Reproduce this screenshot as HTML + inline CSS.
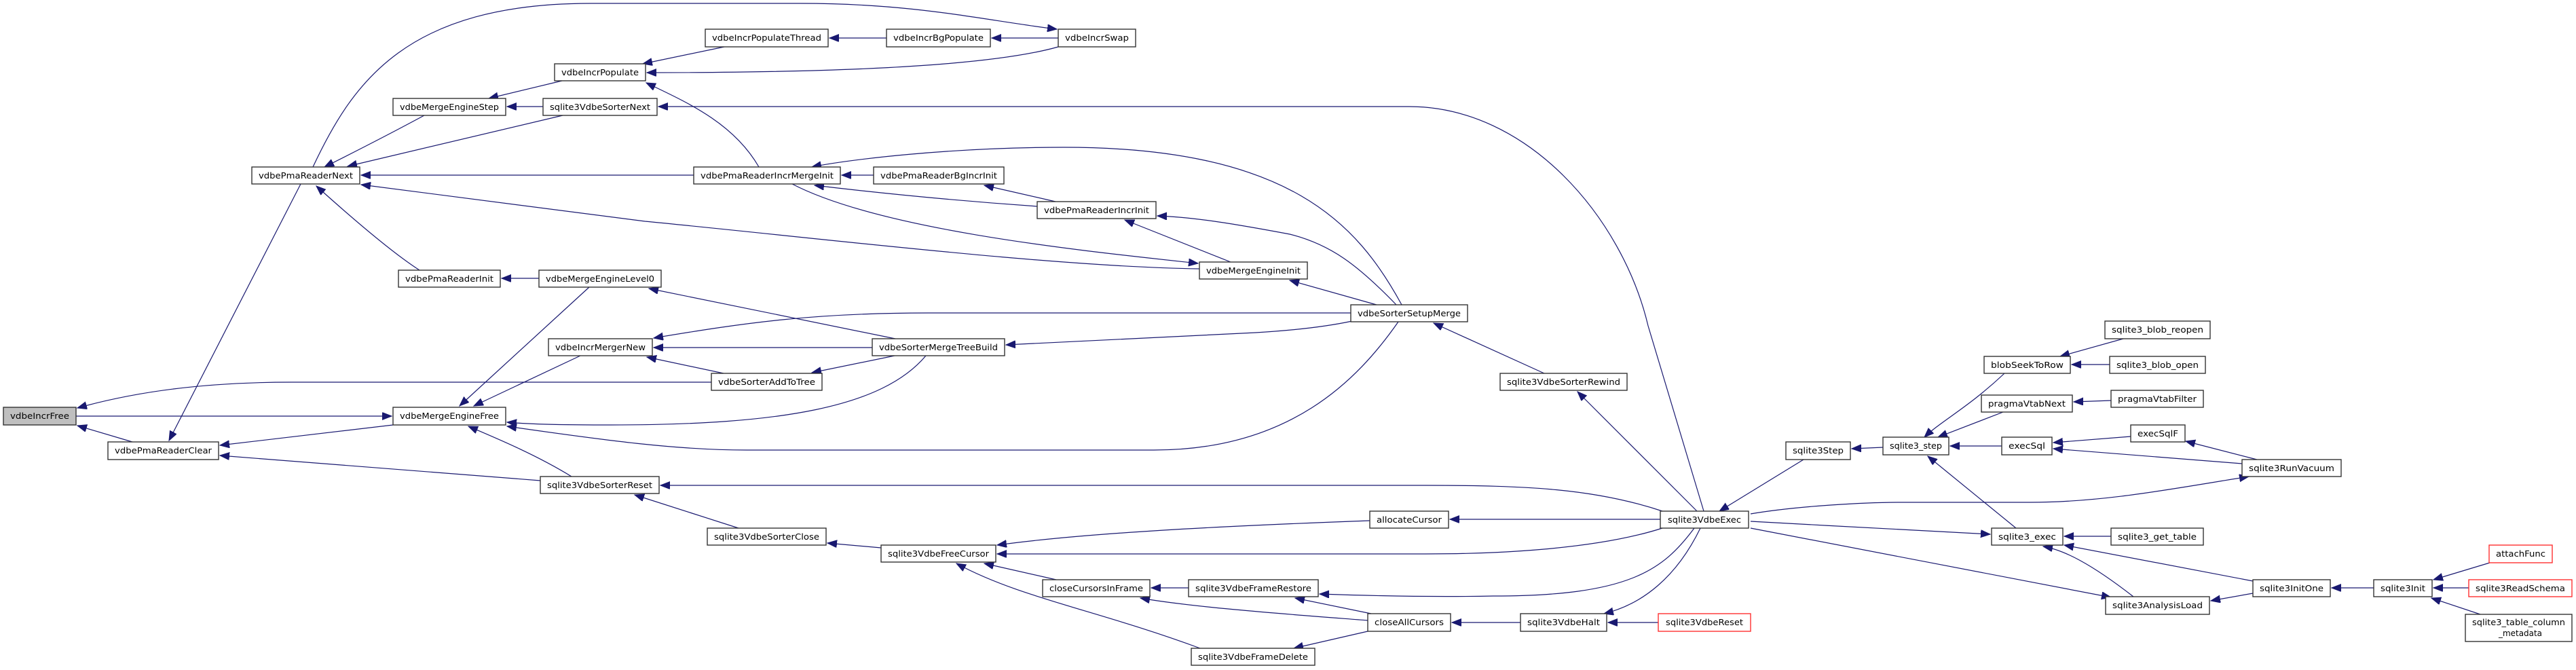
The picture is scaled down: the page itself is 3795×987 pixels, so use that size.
<!DOCTYPE html>
<html><head><meta charset="utf-8"><style>
html,body{margin:0;padding:0;background:#fff;}
svg{display:block;}
text{font-family:"DejaVu Sans","Liberation Sans",sans-serif;font-size:12px;fill:#000;}
.n{fill:#fff;stroke:#333;stroke-width:1.4;}
.g{fill:#bfbfbf;stroke:#333;stroke-width:1.4;}
.r{fill:#fff;stroke:#ff3030;stroke-width:1.4;}
.e{fill:none;stroke:#191970;stroke-width:1.2;marker-end:url(#a);}
</style></head><body>
<svg width="3795" height="987" viewBox="0 0 3795 987" xmlns="http://www.w3.org/2000/svg">
<defs><marker id="a" markerUnits="userSpaceOnUse" markerWidth="16" markerHeight="12" refX="14" refY="5.5" orient="auto"><path d="M0,0 L14,5.5 L0,11 Z" fill="#191970" stroke="#191970"/></marker></defs>

<!-- edges -->
<path class="e" d="M195,651 L114,627"/>
<path class="e" d="M1048,563 L430,563 C300,563 200,577 114,601"/>
<path class="e" d="M112,613 L577,613"/>
<path class="e" d="M443,271 L249,649"/>
<path class="e" d="M579,626 L324,656"/>
<path class="e" d="M796,708 L324,671"/>
<path class="e" d="M461,246 C520,120 600,5 870,5 L1180,5 C1350,5 1450,30 1557,43"/>
<path class="e" d="M625,170 C560,205 510,230 478,246"/>
<path class="e" d="M829,170 L512,245"/>
<path class="e" d="M1022,258 L532,258"/>
<path class="e" d="M1767,396 C1550,393 1200,350 950,326 L532,272"/>
<path class="e" d="M618,398 C590,380 545,345 466,274"/>
<path class="e" d="M828,119 L720,145"/>
<path class="e" d="M800,157 L747,157"/>
<path class="e" d="M1067,69 L947,94"/>
<path class="e" d="M1559,69 C1450,100 1200,107 953,107"/>
<path class="e" d="M1118,246 C1080,180 1010,150 952,122"/>
<path class="e" d="M1306,56 L1222,56"/>
<path class="e" d="M1559,56 L1461,56"/>
<path class="e" d="M2510,753 L2428,480 C2390,320 2250,157 2076,157 L970,157"/>
<path class="e" d="M1287,258 L1240,258"/>
<path class="e" d="M1528,304 C1400,295 1300,285 1200,273"/>
<path class="e" d="M2065,449 C2000,330 1900,217 1567,217 C1400,217 1250,235 1196,246"/>
<path class="e" d="M1167,271 C1300,340 1600,370 1765,388"/>
<path class="e" d="M1555,297 L1450,273"/>
<path class="e" d="M1813,386 L1657,324"/>
<path class="e" d="M2057,449 C2000,390 1960,360 1900,345 C1820,330 1760,320 1705,318"/>
<path class="e" d="M2028,449 L1900,413"/>
<path class="e" d="M794,410 L739,410"/>
<path class="e" d="M868,423 L677,598"/>
<path class="e" d="M1319,499 L956,425"/>
<path class="e" d="M855,524 L698,598"/>
<path class="e" d="M1364,524 C1300,600 1150,626 900,626 C800,626 770,624 747,622"/>
<path class="e" d="M2060,474 C2000,560 1900,663 1700,663 L1100,663 C1000,663 900,650 747,628"/>
<path class="e" d="M842,702 C790,670 730,645 690,628"/>
<path class="e" d="M1990,461 L1367,461 C1200,461 1100,475 963,498"/>
<path class="e" d="M1285,512 L963,512"/>
<path class="e" d="M1066,550 L953,526"/>
<path class="e" d="M1318,524 L1196,549"/>
<path class="e" d="M1992,473 C1950,482 1900,487 1850,490 L1482,508"/>
<path class="e" d="M2275,550 L2112,476"/>
<path class="e" d="M2500,753 L2324,577"/>
<path class="e" d="M1088,778 L935,729"/>
<path class="e" d="M2449,753 C2350,720 2250,715 2100,715 L973,715"/>
<path class="e" d="M1298,807 L1219,800"/>
<path class="e" d="M2018,767 C1800,775 1600,785 1469,803"/>
<path class="e" d="M2449,778 C2350,810 2200,816 2100,816 L1469,816"/>
<path class="e" d="M1556,854 L1450,830"/>
<path class="e" d="M1768,955 C1620,900 1500,880 1409,830"/>
<path class="e" d="M1751,866 L1696,866"/>
<path class="e" d="M2015,914 C1900,905 1760,895 1680,881"/>
<path class="e" d="M2020,904 L1908,881"/>
<path class="e" d="M2496,778 C2450,840 2400,878 2200,878 C2100,880 2000,877 1944,875"/>
<path class="e" d="M2015,930 L1906,955"/>
<path class="e" d="M2449,765 L2136,765"/>
<path class="e" d="M2240,917 L2139,917"/>
<path class="e" d="M2505,778 C2470,850 2420,890 2363,904"/>
<path class="e" d="M2446,917 L2369,917"/>
<path class="e" d="M2657,677 L2533,753"/>
<path class="e" d="M2579,757 C2650,745 2750,740 2800,740 L2990,740 C3100,740 3200,720 3313,702"/>
<path class="e" d="M2579,768 C2700,775 2850,782 2932,787"/>
<path class="e" d="M2579,778 L3110,880"/>
<path class="e" d="M2774,659 L2728,661"/>
<path class="e" d="M2953,550 C2900,600 2860,620 2835,644"/>
<path class="e" d="M2951,607 L2855,644"/>
<path class="e" d="M2949,657 L2873,657"/>
<path class="e" d="M2970,778 L2840,672"/>
<path class="e" d="M3128,499 L3035,525"/>
<path class="e" d="M3108,537 L3052,537"/>
<path class="e" d="M3110,590 L3055,592"/>
<path class="e" d="M3139,643 L3025,652"/>
<path class="e" d="M3303,683 L3025,661"/>
<path class="e" d="M3325,677 L3220,650"/>
<path class="e" d="M3110,790 L3041,790"/>
<path class="e" d="M3319,856 L3041,803"/>
<path class="e" d="M3143,879 C3080,830 3040,810 3010,805"/>
<path class="e" d="M3319,874 L3257,885"/>
<path class="e" d="M3497,866 L3435,866"/>
<path class="e" d="M3668,829 L3585,854"/>
<path class="e" d="M3637,866 L3585,866"/>
<path class="e" d="M3654,905 L3582,881"/>

<!-- nodes -->
<g>
<rect class="g" x="5" y="600" width="107" height="26"/><text x="58.5" y="617" text-anchor="middle" textLength="87" lengthAdjust="spacingAndGlyphs">vdbeIncrFree</text>
<rect class="n" x="159" y="651" width="163" height="26"/><text x="240.5" y="668" text-anchor="middle" textLength="143" lengthAdjust="spacingAndGlyphs">vdbePmaReaderClear</text>
<rect class="n" x="579" y="600" width="166" height="26"/><text x="662" y="617" text-anchor="middle" textLength="146" lengthAdjust="spacingAndGlyphs">vdbeMergeEngineFree</text>
<rect class="n" x="808" y="499" width="153" height="25"/><text x="884.5" y="516" text-anchor="middle" textLength="133" lengthAdjust="spacingAndGlyphs">vdbeIncrMergerNew</text>
<rect class="n" x="796" y="702" width="175" height="25"/><text x="883.5" y="719" text-anchor="middle" textLength="155" lengthAdjust="spacingAndGlyphs">sqlite3VdbeSorterReset</text>
<rect class="n" x="371" y="246" width="159" height="25"/><text x="450.5" y="263" text-anchor="middle" textLength="139" lengthAdjust="spacingAndGlyphs">vdbePmaReaderNext</text>
<rect class="n" x="579" y="145" width="166" height="25"/><text x="662" y="162" text-anchor="middle" textLength="146" lengthAdjust="spacingAndGlyphs">vdbeMergeEngineStep</text>
<rect class="n" x="817" y="94" width="134" height="25"/><text x="884" y="111" text-anchor="middle" textLength="114" lengthAdjust="spacingAndGlyphs">vdbeIncrPopulate</text>
<rect class="n" x="800" y="145" width="168" height="25"/><text x="884" y="162" text-anchor="middle" textLength="148" lengthAdjust="spacingAndGlyphs">sqlite3VdbeSorterNext</text>
<rect class="n" x="587" y="398" width="150" height="25"/><text x="662" y="415" text-anchor="middle" textLength="130" lengthAdjust="spacingAndGlyphs">vdbePmaReaderInit</text>
<rect class="n" x="794" y="398" width="180" height="25"/><text x="884" y="415" text-anchor="middle" textLength="160" lengthAdjust="spacingAndGlyphs">vdbeMergeEngineLevel0</text>
<rect class="n" x="1039" y="43" width="181" height="26"/><text x="1129.5" y="60" text-anchor="middle" textLength="161" lengthAdjust="spacingAndGlyphs">vdbeIncrPopulateThread</text>
<rect class="n" x="1306" y="43" width="153" height="26"/><text x="1382.5" y="60" text-anchor="middle" textLength="133" lengthAdjust="spacingAndGlyphs">vdbeIncrBgPopulate</text>
<rect class="n" x="1559" y="43" width="114" height="26"/><text x="1616" y="60" text-anchor="middle" textLength="94" lengthAdjust="spacingAndGlyphs">vdbeIncrSwap</text>
<rect class="n" x="1022" y="246" width="216" height="25"/><text x="1130" y="263" text-anchor="middle" textLength="196" lengthAdjust="spacingAndGlyphs">vdbePmaReaderIncrMergeInit</text>
<rect class="n" x="1287" y="246" width="192" height="25"/><text x="1383" y="263" text-anchor="middle" textLength="172" lengthAdjust="spacingAndGlyphs">vdbePmaReaderBgIncrInit</text>
<rect class="n" x="1528" y="297" width="175" height="25"/><text x="1615.5" y="314" text-anchor="middle" textLength="155" lengthAdjust="spacingAndGlyphs">vdbePmaReaderIncrInit</text>
<rect class="n" x="1767" y="386" width="159" height="25"/><text x="1846.5" y="403" text-anchor="middle" textLength="139" lengthAdjust="spacingAndGlyphs">vdbeMergeEngineInit</text>
<rect class="n" x="1285" y="499" width="195" height="25"/><text x="1382.5" y="516" text-anchor="middle" textLength="175" lengthAdjust="spacingAndGlyphs">vdbeSorterMergeTreeBuild</text>
<rect class="n" x="1048" y="550" width="163" height="25"/><text x="1129.5" y="567" text-anchor="middle" textLength="143" lengthAdjust="spacingAndGlyphs">vdbeSorterAddToTree</text>
<rect class="n" x="1042" y="778" width="175" height="25"/><text x="1129.5" y="795" text-anchor="middle" textLength="155" lengthAdjust="spacingAndGlyphs">sqlite3VdbeSorterClose</text>
<rect class="n" x="1298" y="803" width="169" height="25"/><text x="1382.5" y="820" text-anchor="middle" textLength="149" lengthAdjust="spacingAndGlyphs">sqlite3VdbeFreeCursor</text>
<rect class="n" x="1536" y="854" width="158" height="25"/><text x="1615" y="871" text-anchor="middle" textLength="138" lengthAdjust="spacingAndGlyphs">closeCursorsInFrame</text>
<rect class="n" x="1751" y="854" width="191" height="25"/><text x="1846.5" y="871" text-anchor="middle" textLength="171" lengthAdjust="spacingAndGlyphs">sqlite3VdbeFrameRestore</text>
<rect class="n" x="1755" y="955" width="182" height="25"/><text x="1846" y="972" text-anchor="middle" textLength="162" lengthAdjust="spacingAndGlyphs">sqlite3VdbeFrameDelete</text>
<rect class="n" x="1990" y="449" width="172" height="25"/><text x="2076" y="466" text-anchor="middle" textLength="152" lengthAdjust="spacingAndGlyphs">vdbeSorterSetupMerge</text>
<rect class="n" x="2210" y="550" width="187" height="25"/><text x="2303.5" y="567" text-anchor="middle" textLength="167" lengthAdjust="spacingAndGlyphs">sqlite3VdbeSorterRewind</text>
<rect class="n" x="2631" y="651" width="95" height="26"/><text x="2678.5" y="668" text-anchor="middle" textLength="75" lengthAdjust="spacingAndGlyphs">sqlite3Step</text>
<rect class="n" x="2446" y="753" width="130" height="25"/><text x="2511" y="770" text-anchor="middle" textLength="108" lengthAdjust="spacingAndGlyphs">sqlite3VdbeExec</text>
<rect class="n" x="2018" y="753" width="116" height="25"/><text x="2076" y="770" text-anchor="middle" textLength="96" lengthAdjust="spacingAndGlyphs">allocateCursor</text>
<rect class="n" x="2015" y="904" width="122" height="26"/><text x="2076" y="921" text-anchor="middle" textLength="102" lengthAdjust="spacingAndGlyphs">closeAllCursors</text>
<rect class="n" x="2240" y="904" width="127" height="26"/><text x="2303.5" y="921" text-anchor="middle" textLength="107" lengthAdjust="spacingAndGlyphs">sqlite3VdbeHalt</text>
<rect class="r" x="2443" y="904" width="136" height="26"/><text x="2511" y="921" text-anchor="middle" textLength="114" lengthAdjust="spacingAndGlyphs">sqlite3VdbeReset</text>
<rect class="n" x="2774" y="644" width="97" height="26"/><text x="2822.5" y="661" text-anchor="middle" textLength="77" lengthAdjust="spacingAndGlyphs">sqlite3_step</text>
<rect class="n" x="3101" y="473" width="155" height="26"/><text x="3178.5" y="490" text-anchor="middle" textLength="135" lengthAdjust="spacingAndGlyphs">sqlite3_blob_reopen</text>
<rect class="n" x="2923" y="525" width="127" height="25"/><text x="2986.5" y="542" text-anchor="middle" textLength="107" lengthAdjust="spacingAndGlyphs">blobSeekToRow</text>
<rect class="n" x="3108" y="525" width="141" height="25"/><text x="3178.5" y="542" text-anchor="middle" textLength="121" lengthAdjust="spacingAndGlyphs">sqlite3_blob_open</text>
<rect class="n" x="2919" y="582" width="134" height="25"/><text x="2986" y="599" text-anchor="middle" textLength="114" lengthAdjust="spacingAndGlyphs">pragmaVtabNext</text>
<rect class="n" x="3110" y="575" width="136" height="25"/><text x="3178" y="592" text-anchor="middle" textLength="116" lengthAdjust="spacingAndGlyphs">pragmaVtabFilter</text>
<rect class="n" x="2949" y="644" width="74" height="26"/><text x="2986" y="661" text-anchor="middle" textLength="54" lengthAdjust="spacingAndGlyphs">execSql</text>
<rect class="n" x="3139" y="626" width="80" height="25"/><text x="3179" y="643" text-anchor="middle" textLength="60" lengthAdjust="spacingAndGlyphs">execSqlF</text>
<rect class="n" x="3303" y="677" width="146" height="25"/><text x="3376" y="694" text-anchor="middle" textLength="126" lengthAdjust="spacingAndGlyphs">sqlite3RunVacuum</text>
<rect class="n" x="2934" y="778" width="105" height="25"/><text x="2986.5" y="795" text-anchor="middle" textLength="85" lengthAdjust="spacingAndGlyphs">sqlite3_exec</text>
<rect class="n" x="3110" y="778" width="136" height="25"/><text x="3178" y="795" text-anchor="middle" textLength="116" lengthAdjust="spacingAndGlyphs">sqlite3_get_table</text>
<rect class="n" x="3102" y="879" width="153" height="26"/><text x="3178.5" y="896" text-anchor="middle" textLength="133" lengthAdjust="spacingAndGlyphs">sqlite3AnalysisLoad</text>
<rect class="n" x="3319" y="854" width="114" height="25"/><text x="3376" y="871" text-anchor="middle" textLength="94" lengthAdjust="spacingAndGlyphs">sqlite3InitOne</text>
<rect class="n" x="3497" y="854" width="86" height="25"/><text x="3540" y="871" text-anchor="middle" textLength="66" lengthAdjust="spacingAndGlyphs">sqlite3Init</text>
<rect class="r" x="3667" y="803" width="93" height="26"/><text x="3713.5" y="820" text-anchor="middle" textLength="73" lengthAdjust="spacingAndGlyphs">attachFunc</text>
<rect class="r" x="3637" y="854" width="152" height="25"/><text x="3713" y="871" text-anchor="middle" textLength="132" lengthAdjust="spacingAndGlyphs">sqlite3ReadSchema</text>
<rect class="n" x="3632" y="905" width="157" height="40"/><text x="3710.5" y="921" text-anchor="middle" textLength="137" lengthAdjust="spacingAndGlyphs">sqlite3_table_column</text><text x="3713" y="937" text-anchor="middle" textLength="64" lengthAdjust="spacingAndGlyphs">_metadata</text>
</g>
</svg>
</body></html>
